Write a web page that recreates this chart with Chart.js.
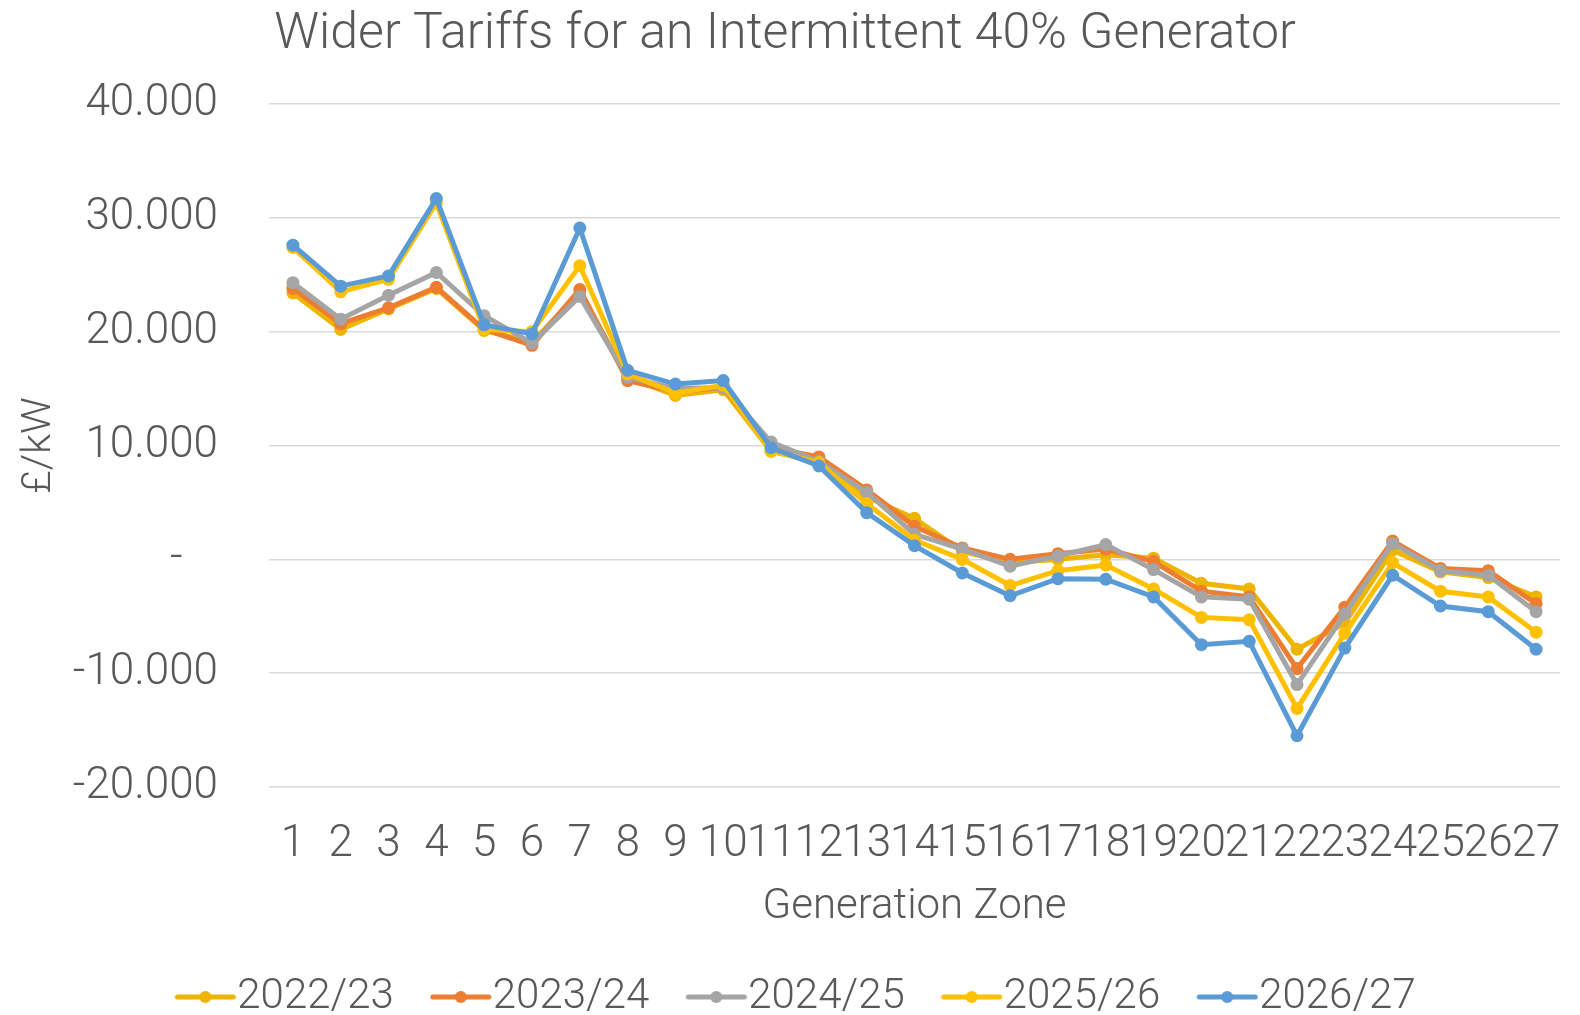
<!DOCTYPE html>
<html>
<head>
<meta charset="utf-8">
<script src="https://cdn.jsdelivr.net/npm/chart.js@4.4.1/dist/chart.umd.min.js"></script>
<style>
  html, body { margin: 0; padding: 0; background: #ffffff; overflow: hidden; }
  #wrap { position: relative; width: 1580px; height: 1028px; }
</style>
</head>
<body>
<div id="wrap"><canvas id="c"></canvas></div>
<script>
const zones = ['1','2','3','4','5','6','7','8','9','10','11','12','13','14','15','16','17','18','19','20','21','22','23','24','25','26','27'];
const seriesNames = ['2022/23', '2023/24', '2024/25', '2025/26', '2026/27'];
const y2022 = [23.4, 20.2, 22.0, 23.8, 20.1, 19.1, 23.4, 16.0, 14.4, 14.9, 9.5, 8.6, 5.5, 3.6, 0.7, -0.3, 0.0, 0.4, 0.1, -2.1, -2.6, -7.9, -5.6, 0.8, -1.1, -1.6, -3.3];
const y2023 = [23.8, 20.7, 22.1, 23.9, 20.2, 18.8, 23.7, 15.7, 14.7, 15.1, 9.8, 9.0, 6.1, 2.9, 1.0, 0.0, 0.5, 0.9, -0.2, -2.8, -3.3, -9.6, -4.2, 1.6, -0.8, -1.0, -3.9];
const y2024 = [24.3, 21.1, 23.2, 25.2, 21.4, 19.0, 23.1, 16.0, 15.0, 15.1, 10.3, 8.6, 5.9, 2.2, 0.9, -0.6, 0.3, 1.3, -0.9, -3.3, -3.5, -11.0, -4.8, 1.4, -1.0, -1.4, -4.6];
const y2025 = [27.4, 23.5, 24.6, 31.3, 20.2, 20.0, 25.8, 16.3, 14.6, 15.3, 9.5, 8.5, 4.9, 1.7, 0.0, -2.3, -1.0, -0.5, -2.6, -5.1, -5.3, -13.1, -6.5, -0.3, -2.8, -3.3, -6.4];
const y2026 = [27.6, 24.0, 24.9, 31.7, 20.6, 19.8, 29.1, 16.6, 15.4, 15.7, 9.8, 8.2, 4.1, 1.2, -1.2, -3.2, -1.7, -1.75, -3.3, -7.5, -7.2, -15.5, -7.8, -1.4, -4.1, -4.6, -7.9];
const yTickValues = [-20, -10, 0, 10, 20, 30, 40];

const seriesValues = [y2022, y2023, y2024, y2025, y2026];
const colors = ['#EEB500', '#ED7D31', '#A5A5A5', '#FFC000', '#5B9BD5'];
const textColor = '#595959';
const fontFamily = "Roboto, 'Liberation Sans', 'DejaVu Sans', sans-serif";

function legendImage(color) {
  const c = document.createElement('canvas');
  c.width = 104; c.height = 16;
  const g = c.getContext('2d');
  g.strokeStyle = color; g.lineWidth = 5; g.lineCap = 'round';
  g.beginPath(); g.moveTo(44, 8); g.lineTo(100, 8); g.stroke();
  g.fillStyle = color;
  g.beginPath(); g.arc(72, 8, 6, 0, Math.PI * 2); g.fill();
  return c;
}
const legendImgs = colors.map(legendImage);

const datasets = seriesNames.map((name, i) => ({
  label: name,
  data: seriesValues[i],
  borderColor: colors[i],
  backgroundColor: colors[i],
  pointBackgroundColor: colors[i],
  pointBorderColor: colors[i],
  borderWidth: 5,
  pointRadius: 6.5,
  pointBorderWidth: 0,
  pointHoverRadius: 6.5,
  tension: 0,
  fill: false,
  order: seriesNames.length - i
}));

new Chart(document.getElementById('c'), {
  type: 'line',
  data: { labels: zones, datasets },
  options: {
    responsive: true,
    maintainAspectRatio: false,
    animation: false,
    layout: { padding: { left: 0, right: 10, top: 0, bottom: 0 } },
    plugins: {
      title: {
        display: true,
        text: 'Wider Tariffs for an Intermittent 40% Generator',
        color: textColor,
        font: { family: fontFamily, size: 50, weight: '300' },
        padding: { top: 5, bottom: 39 }
      },
      legend: {
        display: true,
        position: 'bottom',
        labels: {
          color: textColor,
          font: { family: fontFamily, size: 42, weight: '300' },
          usePointStyle: true,
          pointStyleWidth: 62,
          padding: 16,
          sort: (a, b) => a.datasetIndex - b.datasetIndex,
          generateLabels: (chart) => {
            const items = Chart.defaults.plugins.legend.labels.generateLabels(chart);
            items.forEach(it => { it.pointStyle = legendImgs[it.datasetIndex]; });
            return items;
          }
        }
      },
      tooltip: { enabled: false }
    },
    scales: {
      x: {
        offset: true,
        grid: { display: false, drawTicks: false },
        border: { display: false },
        ticks: {
          color: textColor,
          font: { family: fontFamily, size: 44, weight: '300' },
          padding: 32,
          maxRotation: 0,
          minRotation: 0,
          autoSkip: false
        },
        title: {
          display: true,
          text: 'Generation Zone',
          color: textColor,
          font: { family: fontFamily, size: 42, weight: '300' },
          padding: { top: 0, bottom: 27 }
        },
        afterFit: (s) => { s.height = 173; s.paddingLeft = 0; s.paddingRight = 20; }
      },
      y: {
        min: yTickValues[0],
        max: yTickValues[yTickValues.length - 1],
        afterBuildTicks: (s) => { s.ticks = yTickValues.map(v => ({ value: v })); },
        grid: { color: '#D9D9D9', lineWidth: 1.5, drawTicks: false },
        border: { display: false },
        ticks: {
          color: textColor,
          font: { family: fontFamily, size: 44, weight: '300' },
          padding: 51,
          callback: (v) => v === 0 ? '- \u2007' : Number(v).toFixed(3)
        },
        title: {
          display: true,
          text: '£/kW',
          color: textColor,
          font: { family: fontFamily, size: 41, weight: '300' },
          padding: { top: 15, bottom: 0 }
        },
        afterFit: (s) => { s.width = 269; }
      }
    }
  }
});
</script>
</body>
</html>
